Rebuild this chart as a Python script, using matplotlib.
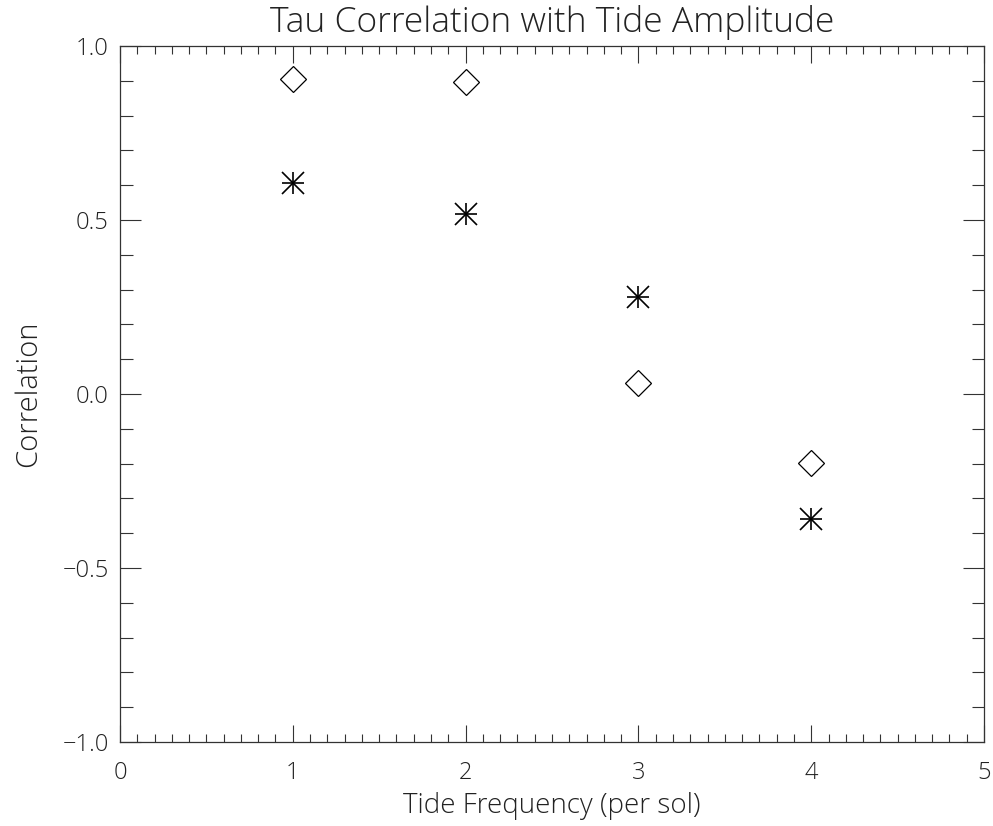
import matplotlib
matplotlib.use("Agg")
import matplotlib.pyplot as plt
from matplotlib.ticker import MultipleLocator, FuncFormatter

plt.rcParams["font.family"] = ["Open Sans", "DejaVu Sans"]
plt.rcParams["font.weight"] = "light"

# 数据
freq = [1, 2, 3, 4]
corr_diamond = [0.905, 0.897, 0.031, -0.199]
corr_star = [0.607, 0.516, 0.280, -0.360]

fig = plt.figure(figsize=(9.93, 8.26), dpi=100)
ax = fig.add_axes([0.1208, 0.1017, 0.991 - 0.1208, 0.9443 - 0.1017])

ax.plot(freq, corr_diamond, linestyle="none", marker="D", markersize=13,
        markerfacecolor="none", markeredgecolor="black", markeredgewidth=0.9)
# 星号 = 十字 + 斜十字叠加
ax.plot(freq, corr_star, linestyle="none", marker="+", markersize=16,
        markeredgecolor="black", markeredgewidth=1.2)
ax.plot(freq, corr_star, linestyle="none", marker="x", markersize=16,
        markeredgecolor="black", markeredgewidth=1.2)

ax.set_xlim(0, 5)
ax.set_ylim(-1, 1)
ax.xaxis.set_major_locator(MultipleLocator(1))
ax.xaxis.set_minor_locator(MultipleLocator(0.1))
ax.yaxis.set_major_locator(MultipleLocator(0.5))
ax.yaxis.set_minor_locator(MultipleLocator(0.1))


def fmt_y(v, pos):
    s = f"{abs(v):.1f}"
    return ("\u2212" + s) if v < -1e-9 else s


ax.yaxis.set_major_formatter(FuncFormatter(fmt_y))
ax.xaxis.set_major_formatter(FuncFormatter(lambda v, pos: f"{v:.0f}"))

ax.tick_params(which="both", direction="in", top=True, right=True, width=0.8, colors="#333333",
               labelsize=17, labelcolor="#222222")
ax.tick_params(axis="x", which="major", length=12, pad=14)
ax.tick_params(axis="x", which="minor", length=6)
ax.tick_params(axis="y", which="major", length=15, pad=8)
ax.tick_params(axis="y", which="minor", length=9)
for s in ax.spines.values():
    s.set_linewidth(0.9)
    s.set_color("#333333")

ax.set_title("Tau Correlation with Tide Amplitude", fontsize=25.5, fontweight="light",
             color="#222222", pad=10)
ax.set_xlabel("Tide Frequency (per sol)", fontsize=20, fontweight="light",
              color="#222222", labelpad=5)
ax.set_ylabel("Correlation", fontsize=21, fontweight="light",
              color="#222222", labelpad=14)

fig.savefig("out.png", dpi=100)
